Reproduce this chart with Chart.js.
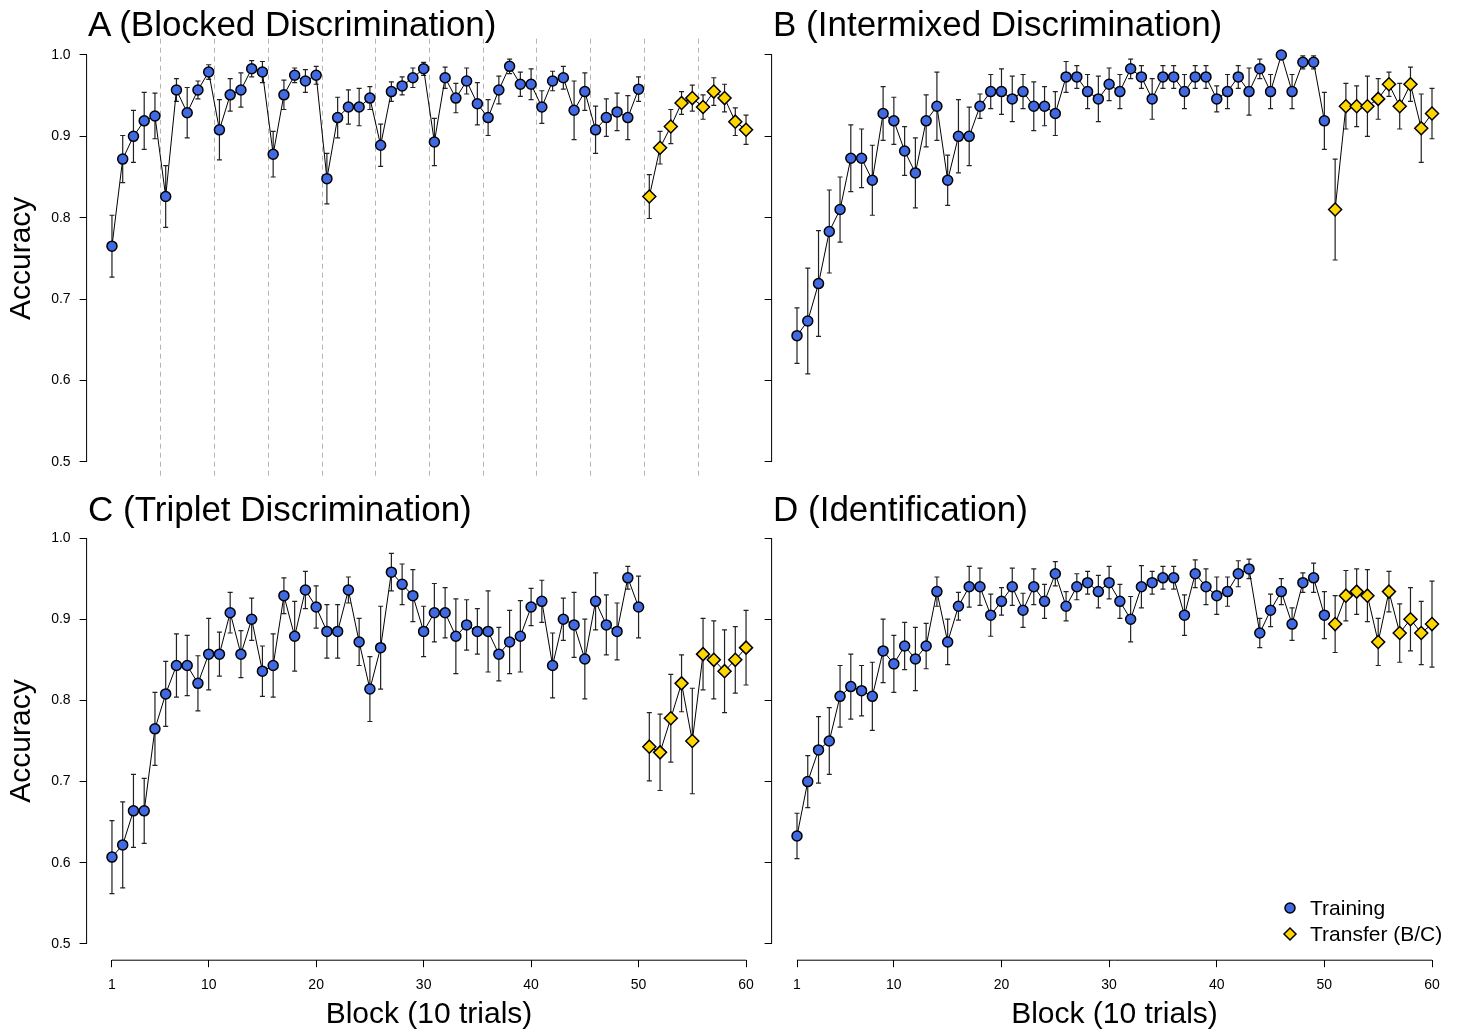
<!DOCTYPE html>
<html>
<head>
<meta charset="utf-8">
<script src="https://cdn.jsdelivr.net/npm/chart.js@4.4.0/dist/chart.umd.min.js"></script>
<style>
  body { margin: 0; background: #fff; }
  #wrap { position: relative; width: 1463px; height: 1033px; overflow: hidden; font-family: Arial, "Liberation Sans", sans-serif; }
  canvas { position: absolute; left: 0; top: 0; }
  .ttl { position: absolute; font-size: 35px; line-height: 1; white-space: nowrap; color: #000; }
</style>
</head>
<body>
<div id="wrap">
  <canvas id="cA" width="1463" height="1033"></canvas>
  <canvas id="cB" width="1463" height="1033"></canvas>
  <canvas id="cC" width="1463" height="1033"></canvas>
  <canvas id="cD" width="1463" height="1033"></canvas>
  <div class="ttl" style="left:88px;top:6px">A (Blocked Discrimination)</div>
  <div class="ttl" style="left:773px;top:6px">B (Intermixed Discrimination)</div>
  <div class="ttl" style="left:88px;top:491px">C (Triplet Discrimination)</div>
  <div class="ttl" style="left:773px;top:491px">D (Identification)</div>
</div>
<script>
// blocks: 1-50 training, 51-60 transfer
var trainBlocks = [];
for (var i = 1; i <= 50; i++) trainBlocks.push(i);
var transferBlocks = [51, 52, 53, 54, 55, 56, 57, 58, 59, 60];

var xTicks = [1, 10, 20, 30, 40, 50, 60];
var yTicks = [0.5, 0.6, 0.7, 0.8, 0.9, 1.0];
// phase boundaries in panel A (blocked design)
var boundariesA = [5.5, 10.5, 15.5, 20.5, 25.5, 30.5, 35.5, 40.5, 45.5, 50.5, 55.5];

// A - blocked discrimination
var aTrain = [0.765,0.872,0.900,0.919,0.925,0.826,0.957,0.929,0.957,0.979,
  0.908,0.951,0.957,0.983,0.979,0.878,0.951,0.975,0.968,0.975,
  0.848,0.923,0.936,0.936,0.947,0.889,0.955,0.962,0.972,0.983,
  0.893,0.972,0.947,0.968,0.940,0.923,0.957,0.986,0.964,0.964,
  0.936,0.968,0.972,0.932,0.955,0.908,0.923,0.930,0.923,0.958];
var aTrainErr = [0.038,0.029,0.032,0.035,0.028,0.038,0.014,0.031,0.011,0.009,
  0.037,0.020,0.021,0.010,0.013,0.028,0.018,0.009,0.014,0.011,
  0.031,0.025,0.021,0.023,0.014,0.026,0.012,0.011,0.012,0.008,
  0.029,0.013,0.018,0.016,0.026,0.022,0.017,0.009,0.015,0.019,
  0.020,0.012,0.014,0.036,0.023,0.029,0.023,0.023,0.027,0.015];
var aTrans = [0.826,0.886,0.912,0.941,0.947,0.936,0.955,0.947,0.918,0.908];
var aTransErr = [0.027,0.020,0.021,0.014,0.016,0.015,0.017,0.017,0.017,0.018];

// B - intermixed discrimination
var bTrain = [0.655,0.673,0.719,0.783,0.810,0.873,0.873,0.846,0.928,0.919,
  0.882,0.855,0.919,0.937,0.846,0.900,0.900,0.937,0.955,0.955,
  0.946,0.955,0.937,0.937,0.928,0.973,0.973,0.955,0.946,0.964,
  0.955,0.983,0.973,0.946,0.973,0.973,0.955,0.973,0.973,0.946,
  0.955,0.973,0.955,0.983,0.955,1.000,0.955,0.991,0.991,0.919];
var bTrainErr = [0.034,0.065,0.065,0.051,0.040,0.041,0.036,0.043,0.033,0.029,
  0.030,0.043,0.032,0.042,0.031,0.045,0.036,0.015,0.021,0.028,
  0.028,0.021,0.030,0.024,0.027,0.019,0.014,0.021,0.028,0.020,
  0.021,0.012,0.014,0.025,0.014,0.014,0.021,0.014,0.014,0.016,
  0.021,0.014,0.029,0.012,0.021,0.000,0.021,0.008,0.008,0.035];
var bTrans = [0.810,0.937,0.937,0.937,0.946,0.964,0.937,0.964,0.910,0.928];
var bTransErr = [0.062,0.028,0.025,0.037,0.025,0.015,0.028,0.021,0.042,0.031];

// C - triplet discrimination
var cTrain = [0.607,0.622,0.664,0.664,0.765,0.808,0.843,0.843,0.821,0.857,
  0.857,0.908,0.857,0.900,0.836,0.843,0.929,0.879,0.936,0.915,
  0.885,0.885,0.936,0.872,0.814,0.865,0.958,0.943,0.929,0.885,
  0.908,0.908,0.879,0.893,0.885,0.885,0.857,0.872,0.879,0.915,
  0.922,0.843,0.900,0.893,0.851,0.922,0.893,0.885,0.951,0.915];
var cTrainErr = [0.045,0.053,0.045,0.040,0.045,0.040,0.039,0.037,0.034,0.044,
  0.027,0.025,0.029,0.026,0.031,0.039,0.022,0.043,0.023,0.026,
  0.033,0.033,0.016,0.029,0.040,0.051,0.023,0.025,0.032,0.031,
  0.036,0.031,0.046,0.031,0.028,0.050,0.033,0.039,0.044,0.023,
  0.026,0.040,0.026,0.040,0.049,0.035,0.037,0.035,0.014,0.038];
var cTrans = [0.743,0.736,0.778,0.821,0.750,0.857,0.850,0.836,0.850,0.865];
var cTransErr = [0.042,0.047,0.054,0.035,0.065,0.044,0.048,0.051,0.041,0.046];

// D - identification
var dTrain = [0.633,0.700,0.739,0.750,0.805,0.817,0.812,0.805,0.861,0.845,
  0.867,0.851,0.867,0.934,0.872,0.916,0.940,0.940,0.905,0.922,
  0.940,0.911,0.940,0.922,0.956,0.916,0.940,0.945,0.934,0.945,
  0.922,0.900,0.940,0.945,0.951,0.951,0.905,0.956,0.940,0.929,
  0.934,0.956,0.962,0.883,0.911,0.934,0.894,0.945,0.951,0.905];
var dTrainErr = [0.028,0.032,0.041,0.041,0.038,0.040,0.031,0.042,0.039,0.035,
  0.029,0.039,0.028,0.018,0.028,0.017,0.025,0.023,0.026,0.017,
  0.023,0.021,0.022,0.021,0.015,0.018,0.016,0.014,0.020,0.020,
  0.021,0.028,0.026,0.014,0.014,0.014,0.025,0.017,0.022,0.023,
  0.018,0.016,0.012,0.018,0.020,0.016,0.020,0.012,0.018,0.029];
var dTrans = [0.894,0.929,0.934,0.929,0.872,0.934,0.883,0.900,0.883,0.894];
var dTransErr = [0.035,0.031,0.028,0.032,0.029,0.025,0.036,0.039,0.039,0.053];

var BLUE = '#4169e1';
var GOLD = '#ffd700';

Chart.defaults.font.family = 'Arial, "Liberation Sans", sans-serif';
Chart.defaults.color = '#000';

function points(xs, ys) {
  return ys.map(function(v, i) { return {x: xs[i], y: v}; });
}

// vertical error bars, drawn under the line and points
var errorBars = {
  id: 'errorBars',
  beforeDatasetsDraw: function(chart) {
    var ctx = chart.ctx, xs = chart.scales.x, ys = chart.scales.y;
    ctx.save();
    ctx.strokeStyle = '#222';
    ctx.lineWidth = 1.2;
    chart.data.datasets.forEach(function(ds) {
      if (!ds.errors) return;
      ds.data.forEach(function(p, i) {
        var e = ds.errors[i];
        if (!e) return;
        var px = xs.getPixelForValue(p.x);
        var lo = ys.getPixelForValue(p.y - e), hi = ys.getPixelForValue(p.y + e);
        ctx.beginPath();
        ctx.moveTo(px, lo); ctx.lineTo(px, hi);
        ctx.moveTo(px - 2.5, lo); ctx.lineTo(px + 2.5, lo);
        ctx.moveTo(px - 2.5, hi); ctx.lineTo(px + 2.5, hi);
        ctx.stroke();
      });
    });
    ctx.restore();
  }
};

// R style axis lines, only over the tick range
var axisLines = {
  id: 'axisLines',
  afterDraw: function(chart) {
    var ctx = chart.ctx, xs = chart.scales.x, ys = chart.scales.y, a = chart.chartArea;
    ctx.save();
    ctx.strokeStyle = '#000';
    ctx.lineWidth = 1;
    ctx.beginPath();
    ctx.moveTo(a.left, ys.getPixelForValue(yTicks[0]));
    ctx.lineTo(a.left, ys.getPixelForValue(yTicks[yTicks.length - 1]));
    if (xs.options.display) {
      ctx.moveTo(xs.getPixelForValue(xTicks[0]), a.bottom);
      ctx.lineTo(xs.getPixelForValue(xTicks[xTicks.length - 1]), a.bottom);
    }
    ctx.stroke();
    ctx.restore();
  }
};

var boundaryLines = {
  id: 'boundaryLines',
  beforeDatasetsDraw: function(chart, args, opts) {
    if (!opts.values) return;
    var ctx = chart.ctx, xs = chart.scales.x, a = chart.chartArea;
    ctx.save();
    ctx.strokeStyle = '#b4b4b4';
    ctx.lineWidth = 1;
    ctx.setLineDash([5, 4]);
    opts.values.forEach(function(v) {
      var px = Math.round(xs.getPixelForValue(v)) + 0.5;
      ctx.beginPath();
      ctx.moveTo(px, a.top);
      ctx.lineTo(px, a.bottom);
      ctx.stroke();
    });
    ctx.restore();
  }
};

var cornerLegend = {
  id: 'cornerLegend',
  afterDraw: function(chart, args, opts) {
    if (!opts.show) return;
    var ctx = chart.ctx;
    var items = chart.data.datasets;
    ctx.save();
    ctx.font = '21px Arial, "Liberation Sans", sans-serif';
    ctx.textBaseline = 'middle';
    items.forEach(function(ds, i) {
      var x = opts.x, y = opts.y + i * 26;
      ctx.beginPath();
      if (ds.pointStyle === 'rectRot') {
        ctx.moveTo(x - 6, y); ctx.lineTo(x, y - 6); ctx.lineTo(x + 6, y); ctx.lineTo(x, y + 6);
        ctx.closePath();
      } else {
        ctx.arc(x, y, 5, 0, Math.PI * 2);
      }
      ctx.fillStyle = ds.pointBackgroundColor;
      ctx.fill();
      ctx.lineWidth = 1.5;
      ctx.strokeStyle = '#000';
      ctx.stroke();
      ctx.fillStyle = '#000';
      ctx.fillText(ds.label, x + 20, y + 1);
    });
    ctx.restore();
  }
};

// box = chart area on the page
function makePanel(id, train, trainErr, trans, transErr, box, cfg) {
  var yw = cfg.yLabels ? box.left : 10;
  var xh = 1033 - box.bottom;
  return new Chart(document.getElementById(id), {
    type: 'scatter',
    data: {
      datasets: [{
        label: 'Training',
        data: points(trainBlocks, train),
        errors: trainErr,
        showLine: true,
        borderColor: '#000',
        borderWidth: 1,
        pointStyle: 'circle',
        pointRadius: 5,
        pointBorderWidth: 1.5,
        pointBorderColor: '#000',
        pointBackgroundColor: BLUE
      }, {
        label: 'Transfer (B/C)',
        data: points(transferBlocks, trans),
        errors: transErr,
        showLine: true,
        borderColor: '#000',
        borderWidth: 1,
        pointStyle: 'rectRot',
        pointRadius: 6.5,
        pointBorderWidth: 1.5,
        pointBorderColor: '#000',
        pointBackgroundColor: GOLD
      }]
    },
    options: {
      responsive: false,
      animation: false,
      events: [],
      layout: {
        autoPadding: false,
        padding: {
          left: box.left - yw,
          top: box.top,
          right: 1463 - box.right,
          bottom: cfg.xAxis ? 0 : 1033 - box.bottom
        }
      },
      plugins: {
        legend: {display: false},
        tooltip: {enabled: false},
        boundaryLines: {values: cfg.boundaries},
        cornerLegend: {show: !!cfg.legend, x: 1290, y: 908}
      },
      scales: {
        x: {
          type: 'linear',
          display: cfg.xAxis,
          min: -1.36,
          max: 62.36,
          afterBuildTicks: function(s) { s.ticks = xTicks.map(function(v) { return {value: v}; }); },
          afterFit: function(s) { if (cfg.xAxis) s.height = xh; },
          grid: {display: true, drawOnChartArea: false, tickLength: 7, color: '#000'},
          border: {display: false},
          ticks: {font: {size: 14}, padding: 10, maxRotation: 0, autoSkip: false},
          title: {display: true, text: 'Block (10 trials)', font: {size: 30}, padding: {top: 0, bottom: 0}}
        },
        y: {
          type: 'linear',
          min: 0.48,
          max: 1.02,
          afterBuildTicks: function(s) { s.ticks = yTicks.map(function(v) { return {value: v}; }); },
          afterFit: function(s) { s.width = yw; },
          grid: {display: true, drawOnChartArea: false, tickLength: 7, color: '#000'},
          border: {display: false},
          ticks: {
            display: cfg.yLabels,
            font: {size: 14},
            padding: 9,
            callback: function(v) { return v.toFixed(1); }
          },
          title: {display: cfg.yLabels, text: 'Accuracy', font: {size: 30}, padding: {top: 4, bottom: 0}}
        }
      }
    },
    plugins: [errorBars, axisLines, boundaryLines, cornerLegend]
  });
}

makePanel('cA', aTrain, aTrainErr, aTrans, aTransErr,
  {left: 86.6, right: 771.4, top: 38.7, bottom: 478}, {yLabels: true, xAxis: false, boundaries: boundariesA});
makePanel('cB', bTrain, bTrainErr, bTrans, bTransErr,
  {left: 771.6, right: 1457.4, top: 38.7, bottom: 478}, {yLabels: false, xAxis: false});
makePanel('cC', cTrain, cTrainErr, cTrans, cTransErr,
  {left: 86.6, right: 771.4, top: 521.8, bottom: 960.2}, {yLabels: true, xAxis: true});
makePanel('cD', dTrain, dTrainErr, dTrans, dTransErr,
  {left: 771.6, right: 1457.4, top: 521.8, bottom: 960.2}, {yLabels: false, xAxis: true, legend: true});
</script>
</body>
</html>
